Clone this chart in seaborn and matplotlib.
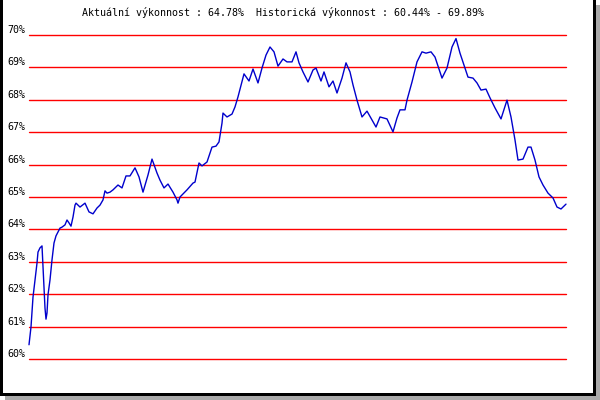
import pandas as pd
import matplotlib
matplotlib.use('Agg')
import matplotlib.pyplot as plt
from matplotlib.patches import Rectangle
import seaborn as sns

# data (day index, performance in %)
den = [0, 2, 4, 6, 8, 9, 11, 13, 14, 15,
       16, 17, 18, 19, 21, 23, 25, 27, 29, 31,
       33, 36, 38, 40, 42, 44, 46, 47, 51, 56,
       60, 64, 68, 71, 74, 76, 78, 81, 84, 89,
       93, 97, 101, 106, 110, 114, 119, 123, 128, 131,
       135, 139, 144, 148, 149, 151, 158, 164, 166, 170,
       173, 178, 183, 187, 190, 193, 194, 198, 203, 206,
       209, 215, 220, 224, 229, 233, 237, 241, 245, 249,
       254, 258, 263, 267, 270, 274, 279, 284, 287, 292,
       295, 300, 304, 308, 313, 317, 321, 324, 328, 333,
       338, 343, 347, 351, 358, 364, 368, 371, 376, 378,
       383, 388, 393, 397, 402, 406, 413, 418, 423, 427,
       431, 435, 439, 444, 448, 452, 457, 461, 466, 472,
       478, 482, 486, 489, 494, 499, 502, 506, 510, 514,
       519, 524, 528, 532, 537]
vykon = [60.44, 60.99, 61.91, 62.44, 62.96, 63.30, 63.43, 63.49, 62.84, 62.13,
         61.57, 61.23, 61.42, 61.98, 62.44, 63.06, 63.58, 63.80, 63.92, 64.04,
         64.07, 64.14, 64.29, 64.20, 64.10, 64.38, 64.75, 64.81, 64.69, 64.81,
         64.54, 64.48, 64.66, 64.75, 64.91, 65.19, 65.12, 65.15, 65.22, 65.37,
         65.28, 65.65, 65.65, 65.90, 65.62, 65.15, 65.68, 66.17, 65.74, 65.52,
         65.28, 65.40, 65.15, 64.91, 64.81, 65.00, 65.22, 65.43, 65.46, 66.05,
         65.96, 66.08, 66.54, 66.57, 66.70, 67.28, 67.59, 67.47, 67.56, 67.78,
         68.09, 68.80, 68.58, 68.95, 68.52, 68.98, 69.38, 69.63, 69.48, 69.04,
         69.26, 69.17, 69.17, 69.48, 69.14, 68.86, 68.55, 68.92, 68.98, 68.58,
         68.86, 68.40, 68.58, 68.21, 68.67, 69.14, 68.86, 68.46, 67.99, 67.47,
         67.65, 67.38, 67.16, 67.47, 67.41, 67.01, 67.44, 67.69, 67.69, 67.99,
         68.55, 69.17, 69.48, 69.44, 69.48, 69.32, 68.67, 68.98, 69.63, 69.89,
         69.44, 69.07, 68.70, 68.67, 68.52, 68.30, 68.33, 68.06, 67.75, 67.41,
         67.99, 67.47, 66.76, 66.14, 66.17, 66.54, 66.54, 66.14, 65.62, 65.37,
         65.12, 64.97, 64.69, 64.63, 64.78]
urovne = list(range(60, 71))
popisky = [f'{u}%' for u in urovne]
titulek = 'Aktuální výkonnost : 64.78%  Historická výkonnost : 60.44% - 69.89%'

df = pd.DataFrame({'den': den, 'vykon': vykon})

sns.set_style('white')
plt.rcParams['font.family'] = ['DejaVu Sans Mono', 'DejaVu Sans']
plt.rcParams['text.color'] = 'black'
plt.rcParams['ytick.color'] = 'black'

fig = plt.figure(figsize=(6, 4), dpi=100)
ax = fig.add_axes([29 / 600, 1 - 359 / 400, 537 / 600, 324 / 400])

for u in urovne:
    ax.axhline(u, color='#ff0000', linewidth=1.0, zorder=1, clip_on=False)

sns.lineplot(data=df, x='den', y='vykon', ax=ax, color='#0000cc',
             linewidth=1.0, zorder=3, clip_on=False)

ax.set_xlim(0, 537)
ax.set_ylim(60, 70)
ax.set_xticks([])
ax.set_yticks(urovne)
ax.set_yticklabels(popisky, fontsize=7.2, color='black')
ax.tick_params(axis='y', length=0, pad=2.5)
for lab in ax.get_yticklabels():
    lab.set_va('bottom')
ax.set_xlabel('')
ax.set_ylabel('')
for s in ax.spines.values():
    s.set_visible(False)

fig.text(283 / 600, 1 - 13 / 400, titulek, ha='center', va='center',
         fontsize=7.2, color='black')


# ramecek a stin (v pixelech obrazku)
def obdelnik(x, y, w, h, c):
    fig.add_artist(Rectangle((x / 600, 1 - (y + h) / 400), w / 600, h / 400,
                             transform=fig.transFigure, color=c, lw=0))


obdelnik(596, 5, 4, 395, '#aaaaaa')
obdelnik(5, 396, 595, 4, '#aaaaaa')
obdelnik(0, 0, 3, 396, 'black')
obdelnik(0, 393, 596, 3, 'black')
obdelnik(593, 0, 3, 396, 'black')

fig.savefig('out.png', dpi=100)
